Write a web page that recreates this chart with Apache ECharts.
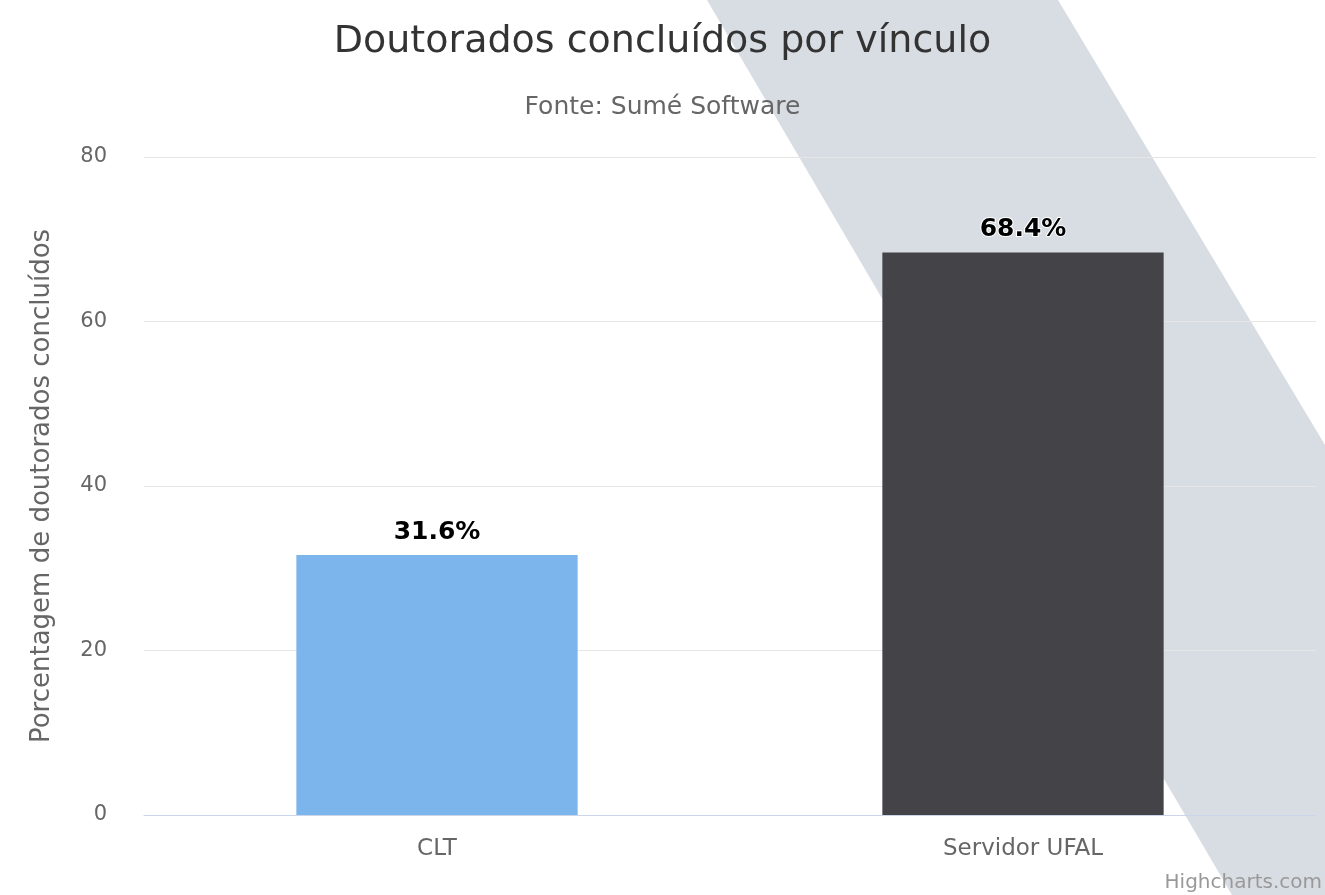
<!DOCTYPE html>
<html>
<head>
<meta charset="utf-8">
<script src="https://cdn.jsdelivr.net/npm/echarts@6/dist/echarts.min.js"></script>
<style>
  html, body { margin: 0; padding: 0; background: #fff; }
  #chart { width: 1325px; height: 895px; }
</style>
</head>
<body>
<div id="chart"></div>
<script>
const categories = ['CLT', 'Servidor UFAL']
const values = [31.6, 68.4]
const barColors = ['#7cb5ec', '#434348']
const yTicks = [0, 20, 40, 60, 80]

const font = '"DejaVu Sans", Verdana, sans-serif'
const chart = echarts.init(document.getElementById('chart'))

chart.setOption({
  backgroundColor: '#ffffff',
  animation: false,
  title: [{
    text: 'Doutorados concluídos por vínculo',
    left: 'center',
    top: 18,
    textStyle: { color: '#333333', fontSize: 38, fontWeight: 'normal', fontFamily: font }
  }, {
    text: 'Fonte: Sumé Software',
    left: 'center',
    top: 90,
    textStyle: { color: '#666666', fontSize: 25, fontWeight: 'normal', fontFamily: font }
  }],
  // decorative diagonal band behind the plot
  graphic: [{
    type: 'polygon',
    z: -10,
    silent: true,
    shape: { points: [[707, 0], [1058, 0], [1325, 445], [1325, 895], [1232, 895]] },
    style: { fill: '#d8dde3' }
  }, {
    type: 'text',
    right: 3,
    bottom: 2,
    style: { text: 'Highcharts.com', fill: '#999999', fontSize: 20, fontFamily: font }
  }],
  grid: {
    left: 144,
    right: 9,
    top: 157,
    bottom: 80,
    containLabel: false
  },
  xAxis: {
    type: 'category',
    data: categories,
    axisLine: { lineStyle: { color: '#ccd6eb', width: 1 } },
    axisTick: { show: false },
    axisLabel: { color: '#666666', fontSize: 23, fontFamily: font, margin: 23 }
  },
  yAxis: {
    type: 'value',
    min: yTicks[0],
    max: yTicks[yTicks.length - 1],
    interval: 20,
    name: 'Porcentagem de doutorados concluídos',
    nameLocation: 'middle',
    nameGap: 89,
    nameTextStyle: { color: '#666666', fontSize: 26, fontFamily: font },
    axisLine: { show: false },
    axisTick: { show: false },
    axisLabel: { color: '#666666', fontSize: 21, fontFamily: font, margin: 37 },
    splitLine: { lineStyle: { color: '#e6e6e6', width: 1 } }
  },
  series: [{
    type: 'bar',
    barWidth: '48%',
    data: values.map((v, i) => ({ value: v, itemStyle: { color: barColors[i] } })),
    label: {
      show: true,
      position: 'top',
      distance: 10,
      formatter: p => p.value.toFixed(1) + '%',
      color: '#000000',
      fontSize: 25,
      fontWeight: 'bold',
      fontFamily: font,
      textBorderColor: '#ffffff',
      textBorderWidth: 2
    }
  }]
})
</script>
</body>
</html>
